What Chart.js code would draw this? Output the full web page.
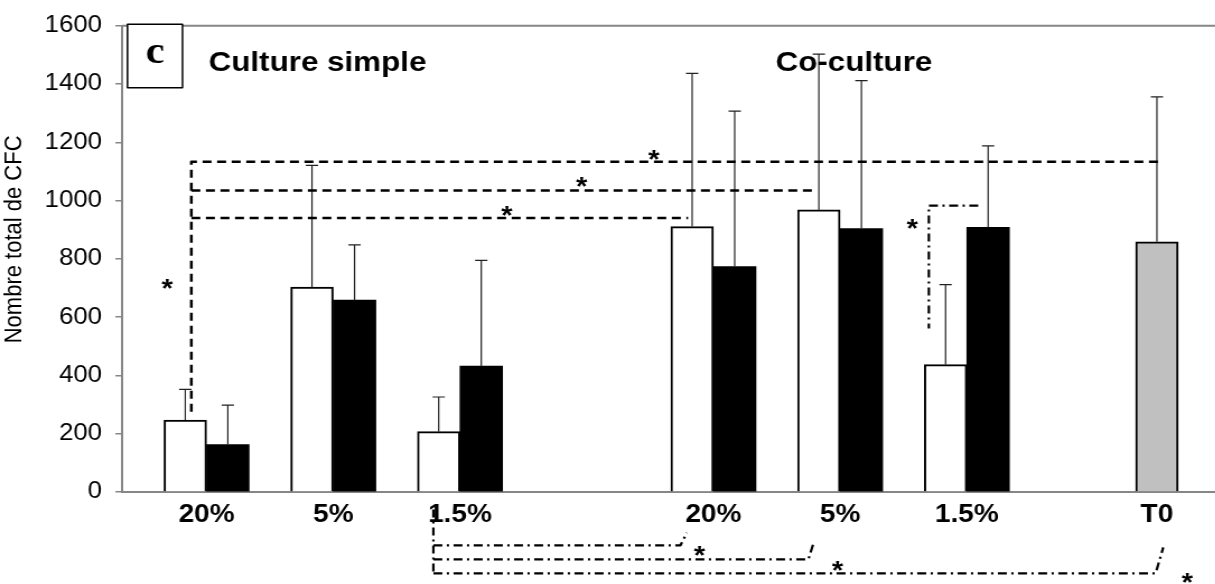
<!DOCTYPE html>
<html lang="fr">
<head>
<meta charset="utf-8">
<title>Nombre total de CFC</title>
<script src="https://cdn.jsdelivr.net/npm/chart.js@4.4.1/dist/chart.umd.min.js"></script>
<style>
  html, body { margin: 0; padding: 0; background: #fff; overflow: hidden; }
  /* la figure d'origine est un peu étirée en largeur */
  #wrap { position: relative; width: 1085px; height: 584px; transform: scaleX(1.12); transform-origin: 0 0; }
</style>
</head>
<body>
<div id="wrap"><canvas id="chart"></canvas></div>
<script>
// Catégories de l'axe x et leur place sur l'axe
const categories = ['20%', '5%', '1.5%', '20%', '5%', '1.5%', 'T0'];
const slots = [1, 2, 3, 5, 6, 7, 8.5];

// Moyennes et écarts (nombre total de CFC)
const whiteMeans = [247, 703, 207, 911, 968, 437, null];
const whiteErrors = [105, 418, 119, 526, 535, 275, null];
const blackMeans = [163, 659, 432, 774, 904, 908, null];
const blackErrors = [135, 189, 363, 533, 508, 280, null];
const greyMeans = [null, null, null, null, null, null, 859];
const greyErrors = [null, null, null, null, null, null, 497];

const yMin = 0, yMax = 1600, yStep = 200;

// Lignes de significativité (x en position d'axe, y en CFC)
const dashedLines = [
  [[0.88, 275], [0.88, 1133], [8.55, 1133]],
  [[0.88, 1035], [5.79, 1035]],
  [[0.88, 940], [4.80, 940]]
];
const dashDotLines = [
  [[7.09, 983], [6.70, 983], [6.70, 561]],
  [[2.79, -60], [2.79, -279]],
  [[2.79, -183], [4.74, -183], [4.79, -140]],
  [[2.79, -231], [5.75, -231], [5.79, -175]],
  [[2.79, -279], [8.49, -279], [8.55, -190]]
];
const stars = [
  [0.69, 711], [4.53, 1153], [3.96, 1061], [3.37, 962],
  [6.57, 918], [4.89, -207], [5.98, -258], [8.74, -299]
];

const errorSets = [whiteErrors, blackErrors, greyErrors];
const FONT = '"Liberation Sans", Arial, sans-serif';
Chart.defaults.font.family = FONT;
Chart.defaults.color = '#000';

function toPoints(values) {
  return values.map((v, i) => ({ x: slots[i], y: v }));
}

// Barres d'erreur (vers le haut seulement)
const errorBars = {
  id: 'errorBars',
  afterDatasetsDraw(chart) {
    const ctx = chart.ctx, ys = chart.scales.y;
    ctx.save();
    ctx.strokeStyle = '#222';
    ctx.lineWidth = 1.2;
    chart.data.datasets.forEach((ds, d) => {
      chart.getDatasetMeta(d).data.forEach((bar, i) => {
        const m = ds.data[i].y, e = errorSets[d][i];
        if (m == null || e == null) return;
        const top = ys.getPixelForValue(m + e);
        ctx.beginPath();
        ctx.moveTo(bar.x, bar.y);
        ctx.lineTo(bar.x, top);
        ctx.moveTo(bar.x - 5.5, top);
        ctx.lineTo(bar.x + 5.5, top);
        ctx.stroke();
      });
    });
    ctx.restore();
  }
};

// Cadre, titres, étoiles et crochets
const decorations = {
  id: 'decorations',
  afterDraw(chart) {
    const ctx = chart.ctx, xs = chart.scales.x, ys = chart.scales.y, area = chart.chartArea;
    const px = v => xs.getPixelForValue(v), py = v => ys.getPixelForValue(v);
    ctx.save();

    // bord supérieur
    ctx.strokeStyle = '#868686';
    ctx.lineWidth = 2;
    ctx.beginPath();
    ctx.moveTo(area.left, area.top);
    ctx.lineTo(area.right, area.top);
    ctx.stroke();

    ctx.strokeStyle = '#000';
    ctx.lineWidth = 2.5;
    ctx.lineJoin = 'round';
    function poly(pts, dash) {
      ctx.setLineDash(dash);
      ctx.beginPath();
      pts.forEach((p, i) => i ? ctx.lineTo(px(p[0]), py(p[1])) : ctx.moveTo(px(p[0]), py(p[1])));
      ctx.stroke();
    }
    dashedLines.forEach(l => poly(l, [8, 5]));
    ctx.lineWidth = 2.2;
    dashDotLines.forEach(l => poly(l, [8, 4, 2, 4]));
    ctx.setLineDash([]);

    ctx.fillStyle = '#000';
    ctx.font = 'bold 26px ' + FONT;
    ctx.textAlign = 'center';
    ctx.textBaseline = 'middle';
    stars.forEach(s => ctx.fillText('*', px(s[0]), py(s[1]) + 5));

    // case "c"
    const bx = px(0.376), by = py(1605), bw = px(0.81) - bx, bh = py(1387) - by;
    ctx.fillStyle = '#fff';
    ctx.fillRect(bx, by, bw, bh);
    ctx.lineWidth = 1.5;
    ctx.strokeRect(bx, by, bw, bh);
    ctx.fillStyle = '#000';
    ctx.font = 'bold 38px "Liberation Serif", "Times New Roman", serif';
    ctx.fillText('c', bx + bw / 2, by + bh / 2 - 3);

    ctx.font = 'bold 28px ' + FONT;
    ctx.textAlign = 'left';
    ctx.textBaseline = 'alphabetic';
    ctx.fillText('Culture simple', px(1.016), py(1445));
    ctx.fillText('Co-culture', px(5.49), py(1445));

    // titre de l'axe y
    ctx.save();
    ctx.translate(area.left - 96, py(867));
    ctx.rotate(-Math.PI / 2);
    ctx.textAlign = 'center';
    ctx.textBaseline = 'middle';
    ctx.font = '22px ' + FONT;
    ctx.fillText('Nombre total de CFC', 0, 0);
    ctx.restore();

    ctx.restore();
  }
};

new Chart(document.getElementById('chart'), {
  type: 'bar',
  data: {
    datasets: [
      { label: 'Blanc', data: toPoints(whiteMeans), backgroundColor: '#fff', borderColor: '#000', borderWidth: 2 },
      { label: 'Noir', data: toPoints(blackMeans), backgroundColor: '#000', borderColor: '#000', borderWidth: 0 },
      { label: 'T0', data: toPoints(greyMeans), backgroundColor: '#c0c0c0', borderColor: '#000', borderWidth: 2 }
    ]
  },
  options: {
    responsive: true,
    maintainAspectRatio: false,
    animation: false,
    barThickness: 38,
    skipNull: true,
    layout: { padding: { top: 20, right: 0, bottom: 0, left: 0 } },
    plugins: { legend: { display: false }, tooltip: { enabled: false } },
    scales: {
      x: {
        type: 'linear',
        offset: false,
        min: 1 / 3,
        max: 8.96,
        afterBuildTicks: axis => { axis.ticks = slots.map(v => ({ value: v })); },
        afterFit: scale => { scale.height = 92; },
        ticks: {
          autoSkip: false,
          maxRotation: 0,
          padding: 8,
          font: { size: 25, weight: 'bold' },
          callback: (v, i) => categories[i]
        },
        grid: { display: false, drawTicks: false },
        border: { color: '#868686', width: 2 }
      },
      y: {
        min: yMin,
        max: yMax,
        afterFit: scale => { scale.width = 109; },
        ticks: { stepSize: yStep, padding: 12, font: { size: 23 }, callback: v => String(v) },
        grid: { drawOnChartArea: false, color: '#868686', tickLength: 6, lineWidth: 1.5 },
        border: { color: '#868686', width: 2 }
      }
    }
  },
  plugins: [errorBars, decorations]
});
</script>
</body>
</html>
